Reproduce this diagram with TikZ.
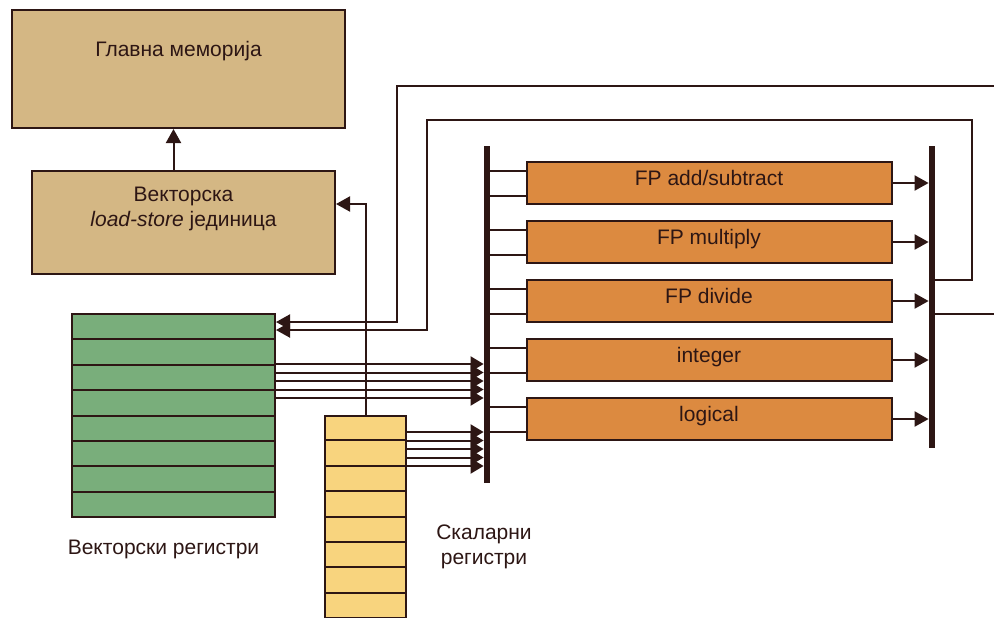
\documentclass[tikz,border=0pt]{standalone}
\usepackage{fontspec}
\setmainfont{Liberation Sans}
\usetikzlibrary{arrows.meta,positioning}
\definecolor{ink}{HTML}{2D1614}
\definecolor{memtan}{HTML}{D4B784}
\definecolor{vecgreen}{HTML}{79AE7B}
\definecolor{scalyellow}{HTML}{F8D47E}
\definecolor{fuorange}{HTML}{DC8A40}
\begin{document}
\begin{tikzpicture}[
x=0.5pt, y=-0.5pt,
every node/.style={font=\fontsize{10.5}{12.5}\selectfont, text=ink},
unit/.style={draw=ink, line width=1pt, fill=memtan, inner sep=0pt},
regs/.style={draw=ink, line width=1pt, inner sep=0pt},
fu/.style={draw=ink, line width=1pt, fill=fuorange, minimum width=182.5pt, minimum height=21pt, text height=7pt, text depth=5pt},
bus/.style={fill=ink, inner sep=0pt, minimum width=3pt},
wire/.style={draw=ink, line width=1pt},
arr/.style={wire, -{Triangle[length=7pt,width=7.5pt]}},
busarr/.style={wire, -{Triangle[length=6.5pt,width=7.5pt]}}
]
\useasboundingbox (0,0) rectangle (994,617);

% memory side
\node (mem) [unit, minimum width=166.5pt, minimum height=59pt] at (178.5,69) {};
\node (memtext) [below=12.5pt of mem.north] {Главна меморија};
\node (ls) [unit, minimum width=151.5pt, minimum height=51.5pt] at (183.5,222.5) {};
\node (lstext) [below=5pt of ls.north, align=center] {Векторска\\\textit{load-store} јединица};
\draw[arr] ([xshift=-5pt]ls.north) -- ([xshift=-5pt]ls.north |- mem.south);

% register files
\node (vreg) [regs, fill=vecgreen, minimum width=101.5pt, minimum height=101.5pt] at (173.5,415.5) {};
\foreach \i in {1,...,7}
  \draw[wire] (72,{314+25.375*\i}) -- (275,{314+25.375*\i});
\node (vregtext) [below=7.5pt of vreg, xshift=-5pt] {Векторски регистри};

\node (sreg) [regs, fill=scalyellow, minimum width=40.5pt, minimum height=114pt, anchor=north] at (365.5,415) {};
\foreach \i in {1,...,8}
  \draw[wire] (325,{415+25.4*\i}) -- (406,{415+25.4*\i});
\node (sregtext) [align=center] at (484,547) {Скаларни\\регистри};

% buses
\node (lbus) [bus, minimum height=168.5pt, anchor=north] at (487,146) {};
\node (rbus) [bus, minimum height=151pt, anchor=north] at (932,146) {};

% functional units
\foreach \txt [count=\i] in {FP add/subtract, FP multiply, FP divide, integer, logical} {
  \node (fu\i) [fu] at (709,{183+59*(\i-1)}) {\txt};
  \coordinate (fu\i a) at ([yshift=6.25pt]fu\i.west);
  \coordinate (fu\i b) at ([yshift=-6.25pt]fu\i.west);
  \draw[wire] (fu\i a -| lbus.east) -- (fu\i a);
  \draw[wire] (fu\i b -| lbus.east) -- (fu\i b);
  \draw[arr] (fu\i.east) -- (fu\i.east -| rbus.west);
}

% register outputs to the bus
\foreach \k in {0,...,4} {
  \coordinate (vout\k) at ([yshift={25.75pt-4.25pt*\k}]vreg.east);
  \draw[busarr] (vout\k) -- (vout\k -| lbus.west);
  \coordinate (sout\k) at ([yshift={-8.5pt-4.25pt*\k}]sreg.north east);
  \draw[busarr] (sout\k) -- (sout\k -| lbus.west);
}

% address path to load-store unit
\draw[arr] (sreg.north) |- ([yshift=9.25pt]ls.east);

% results back to vector registers
\coordinate (vin1) at ([yshift=-4.5pt]vreg.north east);
\coordinate (vin2) at ([yshift=-8.5pt]vreg.north east);
\coordinate (extin) at (994,86);
\draw[arr] (extin) -| ([xshift=60.5pt]vin1) -- (vin1);
\coordinate (loopout) at ([yshift=-67pt]rbus.north east);
\draw[arr] (loopout) -- ++(37,0) -- ++(0,-160) -| ([xshift=75.5pt]vin2) -- (vin2);
\coordinate (extout) at (994,314);
\draw[wire] (rbus.east |- extout) -- (extout);
\end{tikzpicture}
\end{document}
